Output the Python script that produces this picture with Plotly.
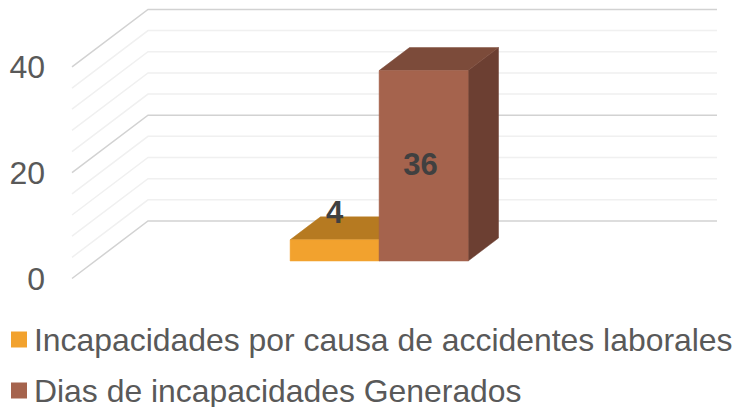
import plotly.graph_objects as go

series_names = ["Incapacidades por causa de accidentes laborales", "Dias de incapacidades Generados"]
series_values = [4, 36]
value_ticks = [0, 20, 40]
minor_ticks = [4, 8, 12, 16, 24, 28, 32, 36]

W, H, LEFT = 735, 407, 46
PX_PER_UNIT = 5.29
ZERO_PX = 278.5
DEPTH_X, DEPTH_V = 76, 57.5 / PX_PER_UNIT
WALL_LEFT, WALL_RIGHT_BACK = 72, 717
BAR_LEFT, BAR_WIDTH = 267, 89
BAR_D0, BAR_D1 = 0.304, 0.704
LABEL_LIFT = [4.6, -0.2]
LABEL_SHIFT = [0, -3]

front_colors = ["#F2A22E", "#A5634D"]
top_colors = ["#B67A21", "#7C4B3A"]
side_colors = ["#916119", "#6C3F32"]


def proj(u, v, d):
    return u + DEPTH_X * d, v + DEPTH_V * d


def face(points, color, name):
    xs, ys = zip(*[proj(*p) for p in points])
    return go.Scatter(x=list(xs) + [xs[0]], y=list(ys) + [ys[0]], mode="lines", fill="toself",
                      fillcolor=color, line=dict(color=color, width=0.5), hoverinfo="skip",
                      showlegend=False, name=name)


def grid_trace(ticks, color):
    xs, ys = [], []
    for t in ticks:
        a, b, c = proj(WALL_LEFT, t, 0), proj(WALL_LEFT, t, 1), proj(WALL_RIGHT_BACK - DEPTH_X, t, 1)
        xs += [a[0], b[0], c[0], None]
        ys += [a[1], b[1], c[1], None]
    return go.Scatter(x=xs, y=ys, mode="lines", line=dict(color=color, width=1.5),
                      hoverinfo="skip", showlegend=False)


fig = go.Figure()
fig.add_trace(grid_trace(minor_ticks, "#F0F0F0"))
fig.add_trace(grid_trace(value_ticks, "#D2D2D2"))

for i, (name, v) in enumerate(zip(series_names, series_values)):
    l, r = BAR_LEFT + i * BAR_WIDTH, BAR_LEFT + (i + 1) * BAR_WIDTH
    fig.add_trace(face([(r, 0, BAR_D0), (r, 0, BAR_D1), (r, v, BAR_D1), (r, v, BAR_D0)], side_colors[i], name))
    fig.add_trace(face([(l, v, BAR_D0), (r, v, BAR_D0), (r, v, BAR_D1), (l, v, BAR_D1)], top_colors[i], name))
    fig.add_trace(face([(l, 0, BAR_D0), (r, 0, BAR_D0), (r, v, BAR_D0), (l, v, BAR_D0)], front_colors[i], name))

for i, v in enumerate(series_values):
    cx = BAR_LEFT + (i + 0.5) * BAR_WIDTH + LABEL_SHIFT[i]
    base = v if i == 0 else v / 2
    lx, ly = proj(cx, base + LABEL_LIFT[i], BAR_D0)
    fig.add_trace(go.Scatter(x=[lx], y=[ly], mode="text", text=[str(v)],
                             textposition="middle center", hoverinfo="skip", showlegend=False,
                             textfont=dict(family="Liberation Sans", size=31, color="#404040", weight="bold")))

plot_w = W - LEFT
for i, (name, py) in enumerate(zip(series_names, [339.5, 390.5])):
    fig.add_shape(type="rect", xref="paper", yref="paper", layer="above",
                  x0=(11 - LEFT) / plot_w, x1=(27 - LEFT) / plot_w,
                  y0=1 - (py + 8) / H, y1=1 - (py - 8) / H,
                  fillcolor=front_colors[i], line=dict(width=0))
    fig.add_annotation(xref="paper", yref="paper", x=(34 - LEFT) / plot_w, y=1 - py / H,
                       text=name, showarrow=False, xanchor="left", yanchor="middle",
                       font=dict(family="Liberation Sans", size=31.9, color="#595959"), xshift=-2)

fig.update_layout(
    width=W, height=H, margin=dict(l=LEFT, r=0, t=0, b=0),
    paper_bgcolor="white", plot_bgcolor="white", showlegend=False,
    xaxis=dict(visible=False, range=[LEFT, W], fixedrange=True),
    yaxis=dict(range=[(ZERO_PX - H) / PX_PER_UNIT, ZERO_PX / PX_PER_UNIT], tickvals=value_ticks,
               ticktext=[str(t) for t in value_ticks], showgrid=False, zeroline=False, showline=False,
               ticks="", tickfont=dict(family="Liberation Sans", size=32, color="#595959"), fixedrange=True),
)
fig.write_html("out.html", config={"displayModeBar": False},
               post_script="document.body.style.margin='0';document.body.style.overflow='hidden';")
